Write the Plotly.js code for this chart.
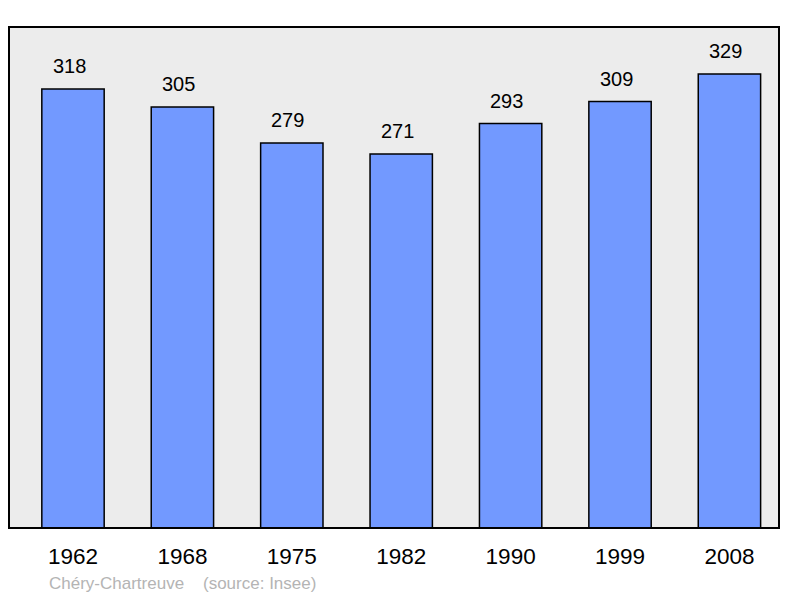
<!DOCTYPE html>
<html><head><meta charset="utf-8">
<script src="https://cdn.plot.ly/plotly-3.0.1.min.js"></script>
<style>body{margin:0;padding:0;background:#fff}#c{width:800px;height:598px}</style>
</head><body><div id="c"></div>
<script>
const years = ["1962","1968","1975","1982","1990","1999","2008"];
const population = [318,305,279,271,293,309,329];
const sourceText = "Chéry-Chartreuve    (source: Insee)";

const trace = {
  type:'bar', x: years, y: population,
  marker:{color:'#7299ff', line:{color:'#000', width:1.5}},
  width:0.57, hoverinfo:'skip'
};
const annotations = years.map((y,i)=>({
  x:i, y:population[i], xref:'x', yref:'y', text:String(population[i]),
  showarrow:false, yanchor:'bottom', yshift:10, xshift:-4,
  font:{family:'Liberation Sans, Arial, sans-serif', size:20, color:'#000'}
}));
annotations.push({
  xref:'paper', yref:'paper', x:(47-9)/770, y:-(583-528)/501, xanchor:'left', yanchor:'middle',
  text:sourceText, showarrow:false,
  font:{family:'Liberation Sans, Arial, sans-serif', size:17, color:'#b4b4b4'}
});
const layout = {
  width:800, height:598,
  margin:{l:9, r:21, t:27, b:70, pad:0},
  paper_bgcolor:'#fff', plot_bgcolor:'#ececec',
  showlegend:false,
  xaxis:{type:'category', range:[-0.585,6.453], showgrid:false, zeroline:false, showline:false,
         ticks:'', ticklabelstandoff:12,
         tickfont:{family:'Liberation Sans, Arial, sans-serif', size:22.5, color:'#000'}},
  yaxis:{range:[0,363], showgrid:false, zeroline:false, showticklabels:false, showline:false, ticks:''},
  shapes:[{type:'rect', xref:'paper', yref:'paper', x0:0, x1:1, y0:0, y1:1,
           line:{color:'#000', width:2}, fillcolor:'rgba(0,0,0,0)', layer:'above'}],
  annotations: annotations
};
Plotly.newPlot('c',[trace],layout,{staticPlot:true, displayModeBar:false});
</script></body></html>
